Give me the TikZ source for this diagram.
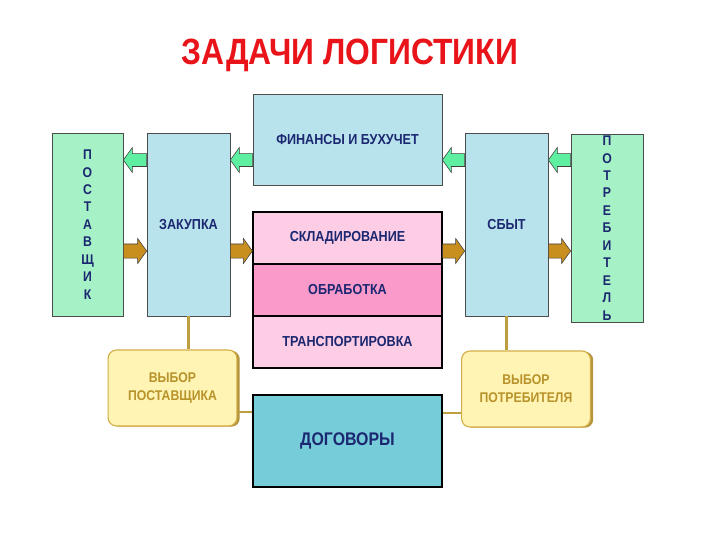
\documentclass[tikz,border=0pt]{standalone}
\usepackage{fontspec}
\setmainfont{Liberation Sans}[FakeStretch=0.87]
\usetikzlibrary{calc, shadows}
\definecolor{mTitle}{HTML}{E8141A}
\definecolor{mNavy}{HTML}{1B2770}
\definecolor{mMint}{HTML}{A6F2C6}
\definecolor{mSky}{HTML}{B8E3EC}
\definecolor{mPink}{HTML}{FCCDE4}
\definecolor{mRose}{HTML}{F99ACB}
\definecolor{mTeal}{HTML}{77CCD9}
\definecolor{mCream}{HTML}{FFF4B3}
\definecolor{mGold}{HTML}{D4AE48}
\definecolor{mOchre}{HTML}{B8922A}
\definecolor{mArrowG}{HTML}{5EF0A0}
\definecolor{mArrowB}{HTML}{C98F1E}

% block arrow between two points at the same height
\newcommand{\blkarrow}[4]{%
  \filldraw[fill=#1, draw=black!75, line width=0.4pt]
    let \p1=(#2), \p2=(#3), \n1={6.4*sign(\x2-\x1)} in
    (\x1,{\y1+#4}) -- ({\x2-(\n1)},{\y1+#4}) -- ({\x2-(\n1)},{\y1+8.9pt})
    -- (\x2,\y1) -- ({\x2-(\n1)},{\y1-8.9pt}) -- ({\x2-(\n1)},{\y1-#4})
    -- (\x1,{\y1-#4}) -- cycle;}

\tikzset{
  box/.style={draw=black!70, line width=0.5pt, inner sep=0pt, text=mNavy,
    font=\fontsize{10.3}{12}\selectfont\bfseries},
  sidebox/.style={box, fill=mMint, align=center,
    font=\fontsize{10}{12.4}\selectfont\bfseries},
  stackbox/.style={box, draw=black, line width=0.8pt,
    minimum width=4.725cm, minimum height=1.3cm},
  choice/.style={draw=mGold, line width=0.8pt, fill=mCream, rounded corners=6pt,
    text=mOchre, align=center, inner sep=0pt,
    minimum width=3.22cm, minimum height=1.9cm,
    font=\fontsize{10}{12.8}\selectfont\bfseries,
    drop shadow={shadow xshift=2pt, shadow yshift=-0.5pt, fill=mGold!85!black, opacity=1}},
  link/.style={draw=mGold!90!black, line width=1.6pt}
}

\begin{document}
\begin{tikzpicture}[x=0.025cm, y=-0.025cm]
  \useasboundingbox (0,0) rectangle (720,540);

  \node[text=mTitle, font=\fontsize{26}{30}\selectfont\bfseries, anchor=base] (title) at (350,64) {ЗАДАЧИ ЛОГИСТИКИ};

  % suppliers, purchase, sales, consumers
  \node[sidebox, minimum width=1.775cm, minimum height=4.575cm] (post) at (87.5,224.5)
    {П\\О\\С\\Т\\А\\В\\Щ\\И\\К};
  \node[box, fill=mSky, minimum width=2.075cm, minimum height=4.575cm] (zak) at (188.5,224.5) {ЗАКУПКА};
  \node[box, fill=mSky, minimum width=2.075cm, minimum height=4.575cm] (sbyt) at (506.5,224.5) {СБЫТ};
  \node[sidebox, minimum width=1.8cm, minimum height=4.7cm] (potr) at (607,228)
    {П\\О\\Т\\Р\\Е\\Б\\И\\Т\\Е\\Л\\Ь};

  % middle column
  \node[box, fill=mSky, minimum width=4.725cm, minimum height=2.275cm] (fin) at (347.5,139.5) {ФИНАНСЫ И БУХУЧЕТ};
  \node[stackbox, fill=mPink] (sklad) at (347.5,238) {СКЛАДИРОВАНИЕ};
  \node[stackbox, fill=mRose] (obr) at (347.5,290) {ОБРАБОТКА};
  \node[stackbox, fill=mPink] (trans) at (347.5,342) {ТРАНСПОРТИРОВКА};
  \node[box, draw=black, line width=0.9pt, fill=mTeal, minimum width=4.725cm, minimum height=2.3cm,
    font=\fontsize{13}{15}\selectfont\bfseries] (dog) at (347.5,441) {ДОГОВОРЫ};

  % choice boxes
  \node[choice] (vpost) at (172.5,388) {ВЫБОР\\ПОСТАВЩИКА};
  \node[choice] (vpotr) at (526,389) {ВЫБОР\\ПОТРЕБИТЕЛЯ};

  \draw[link] (zak.south) -- (zak.south |- vpost.north);
  \draw[link] (vpost.-20) -- (vpost.-20 -| dog.west);
  \draw[link] (sbyt.south) -- (sbyt.south |- vpotr.north);
  \draw[link] (vpotr.200) -- (vpotr.200 -| dog.east);

  % flows
  \coordinate (gy) at (0,160);
  \coordinate (by) at (0,251);
  \blkarrow{mArrowG}{zak.west |- gy}{post.east |- gy}{4.6pt}
  \blkarrow{mArrowG}{fin.west |- gy}{zak.east |- gy}{4.6pt}
  \blkarrow{mArrowG}{sbyt.west |- gy}{fin.east |- gy}{4.6pt}
  \blkarrow{mArrowG}{potr.west |- gy}{sbyt.east |- gy}{4.6pt}
  \blkarrow{mArrowB}{post.east |- by}{zak.west |- by}{5pt}
  \blkarrow{mArrowB}{zak.east |- by}{sklad.west |- by}{5pt}
  \blkarrow{mArrowB}{sklad.east |- by}{sbyt.west |- by}{5pt}
  \blkarrow{mArrowB}{sbyt.east |- by}{potr.west |- by}{5pt}
\end{tikzpicture}
\end{document}
